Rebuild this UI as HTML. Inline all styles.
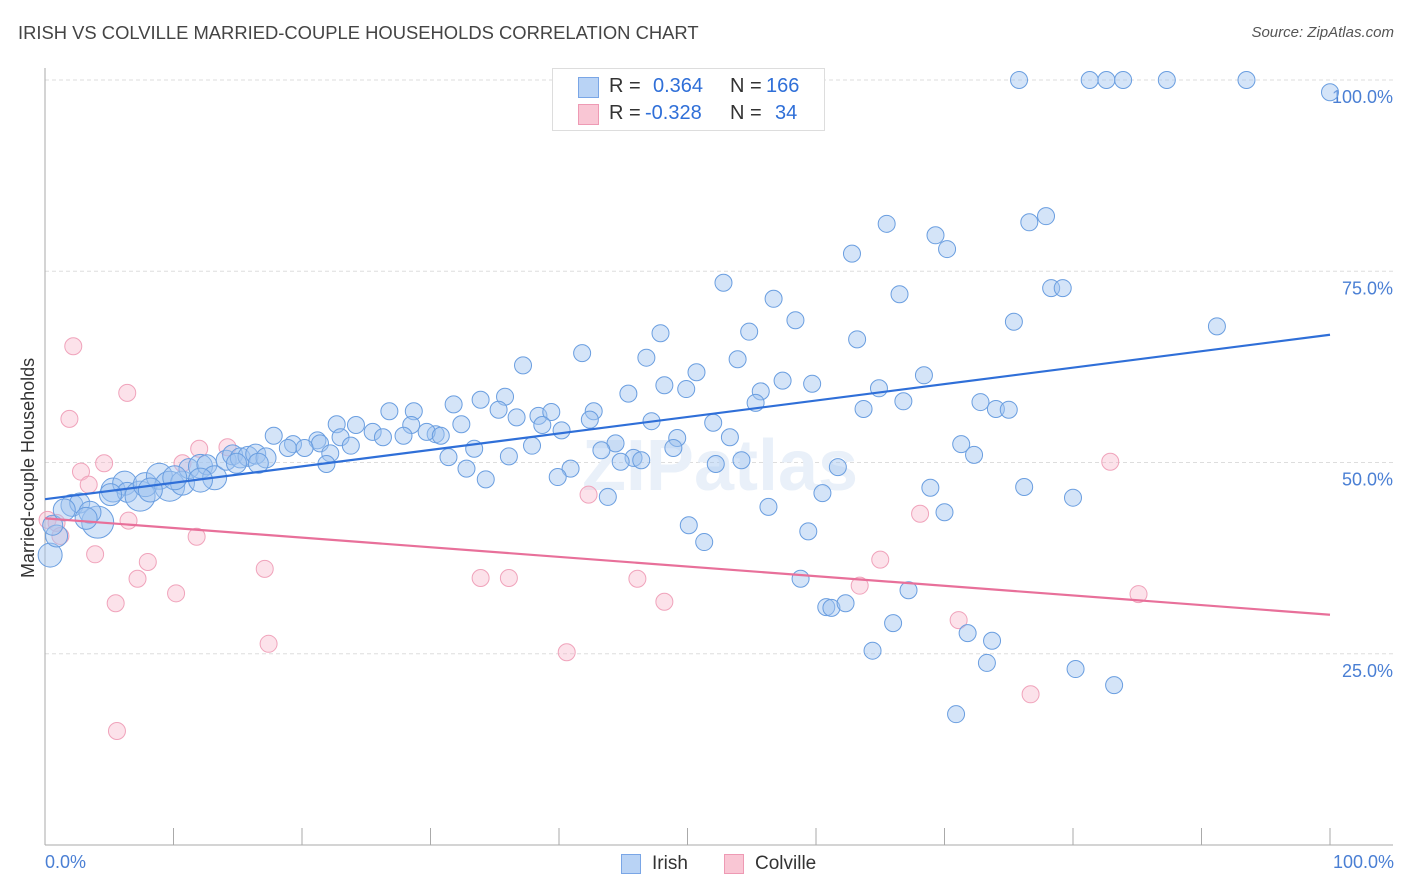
<!DOCTYPE html>
<html><head><meta charset="utf-8"><style>
body{margin:0;background:#fff;font-family:"Liberation Sans",sans-serif}
#wrap{position:relative;width:1406px;height:892px;overflow:hidden}
.t{position:absolute;white-space:nowrap}
</style></head><body>
<div id="wrap">
<div class="t" style="left:18px;top:22px;font-size:18.4px;color:#444">IRISH VS COLVILLE MARRIED-COUPLE HOUSEHOLDS CORRELATION CHART</div>
<div class="t" style="right:12px;top:24px;font-size:15px;color:#555;font-style:italic">Source: ZipAtlas.com</div>
<svg id="plot" width="1406" height="892" style="position:absolute;left:0;top:0"></svg>
<div class="t" style="left:552px;top:68px;width:271px;height:61px;border:1px solid #ddd;background:#fff;font-size:20px">
 <div style="position:absolute;left:25px;top:8px;width:19px;height:19px;background:#b9d3f5;border:1px solid #7aa6e6"></div>
 <div style="position:absolute;left:56px;top:6px;color:#333">R =</div><div style="position:absolute;left:100px;top:6px;color:#2f6fd8">0.364</div>
 <div style="position:absolute;left:177px;top:6px;color:#333">N =</div><div style="position:absolute;left:213px;top:6px;color:#2f6fd8">166</div>
 <div style="position:absolute;left:25px;top:35px;width:19px;height:19px;background:#f9c6d4;border:1px solid #ee9ab4"></div>
 <div style="position:absolute;left:56px;top:33px;color:#333">R =</div><div style="position:absolute;left:92px;top:33px;color:#2f6fd8">-0.328</div>
 <div style="position:absolute;left:177px;top:33px;color:#333">N =</div><div style="position:absolute;left:222px;top:33px;color:#2f6fd8">34</div>
</div>
<div class="t" style="left:621px;top:854px;width:18px;height:18px;background:#b9d3f5;border:1px solid #7aa6e6"></div>
<div class="t" style="left:652px;top:853px;font-size:19px;color:#333">Irish</div>
<div class="t" style="left:724px;top:854px;width:18px;height:18px;background:#f9c6d4;border:1px solid #ee9ab4"></div>
<div class="t" style="left:755px;top:853px;font-size:19px;color:#333">Colville</div>
<div class="t" style="left:45px;top:852px;font-size:18px;color:#4a7fd4">0.0%</div>
<div class="t" style="right:12px;top:852px;font-size:18px;color:#4a7fd4">100.0%</div>
<div class="t" style="font-size:18px;color:#333;transform:rotate(-90deg);transform-origin:0 0;left:18px;top:578px">Married-couple Households</div>
</div>
<script>
const yTicks=[25,50,75,100];
const yTickLabels=["25.0%","50.0%","75.0%","100.0%"];
const irishX=[75.8,81.3,82.6,83.9,87.3,93.5,100,65.5,69.3,70.2,62.8,76.6,77.9,52.8,56.7,66.5,78.3,79.2,58.4,54.8,47.9,63.2,75.4,91.2,41.8,46.8,53.9,37.2,50.7,68.4,48.2,49.9,57.4,59.7,64.9,55.7,45.4,33.9,35.8,31.8,66.8,55.3,72.8,63.7,74.0,75.0,26.8,28.7,35.3,38.4,39.4,42.7,42.4,47.2,52.0,22.7,32.4,36.7,38.7,40.2,24.2,25.5,28.5,30.4,23.0,26.3,27.9,29.7,30.8,21.2,23.8,21.4,19.3,17.8,18.9,20.2,49.2,53.3,44.4,43.3,71.3,72.3,37.9,33.4,31.4,36.1,22.2,21.9,45.8,46.4,48.9,44.8,54.2,52.2,61.7,40.9,39.9,32.8,34.3,60.5,68.9,76.2,80.0,43.8,56.3,70.0,50.1,59.4,51.3,58.8,67.2,60.8,61.2,62.3,66.0,71.8,73.7,64.4,73.3,80.2,83.2,70.9,
0.4,0.9,0.6,2.1,2.7,4.1,5.3,6.2,6.4,7.4,7.8,8.9,9.7,10.7,11.2,12.1,12.6,13.2,14.1,14.6,15.2,15.8,16.4,17.2,14.9,16.6,8.2,10.1,12.1,5.1,3.5,1.5,3.2];
const irishY=[100,100,100,100,100,100,98.4,81.2,79.7,77.9,77.3,81.4,82.2,73.5,71.4,72.0,72.8,72.8,68.6,67.1,66.9,66.1,68.4,67.8,64.3,63.7,63.5,62.7,61.8,61.4,60.1,59.6,60.7,60.3,59.7,59.3,59.0,58.2,58.6,57.6,58.0,57.8,57.9,57.0,57.0,56.9,56.7,56.7,56.9,56.1,56.6,56.7,55.6,55.4,55.2,55.0,55.0,55.9,54.9,54.2,54.9,54.0,54.9,53.7,53.3,53.3,53.5,54.0,53.5,52.9,52.2,52.5,52.4,53.5,51.9,51.9,53.2,53.3,52.5,51.6,52.4,51.0,52.2,51.8,50.7,50.8,51.2,49.8,50.6,50.3,51.9,50.1,50.3,49.8,49.4,49.2,48.1,49.2,47.8,46.0,46.7,46.8,45.4,45.5,44.2,43.5,41.8,41.0,39.6,34.8,33.3,31.1,31.0,31.6,29.0,27.7,26.7,25.4,23.8,23.0,20.9,17.1,
37.9,40.4,41.8,44.4,44.7,42.2,46.4,47.3,46.1,45.6,47.1,48.2,46.9,47.3,49.2,49.5,49.7,48.0,50.3,51.0,50.6,50.8,51.1,50.6,49.9,49.9,46.4,48.0,47.7,45.8,43.5,43.8,42.7];
const irishBig=[12,11,10,11,10,16,12,12,10,15,12,13,15,12,10,12,10,12,10,10,10,10,10,10,10,10,12,12,12,11,11,11,11];
const colX=[2.2,1.9,6.4,2.8,4.6,3.4,12.0,10.7,14.2,0.2,0.9,1.2,6.5,3.9,8.0,7.2,5.5,10.2,11.8,17.1,17.4,5.6,33.9,36.1,40.6,42.3,46.1,48.2,63.4,65.0,68.1,71.1,76.7,82.9,85.1];
const colY=[65.2,55.7,59.1,48.8,49.9,47.1,51.8,49.9,52.0,42.5,42.1,40.4,42.4,38.0,37.0,34.8,31.6,32.9,40.3,36.1,26.3,14.9,34.9,34.9,25.2,45.8,34.8,31.8,33.9,37.3,43.3,29.4,19.7,50.1,32.8];
const irishTrend=[45.2,66.7];
const colTrend=[42.7,30.1];
const NS="http://www.w3.org/2000/svg";
const svg=document.getElementById('plot');
const X=v=>45+v*12.85, Y=v=>845-v*7.65;
function mk(t,a){const e=document.createElementNS(NS,t);for(const k in a)e.setAttribute(k,a[k]);svg.appendChild(e);return e;}
yTicks.forEach((t,i)=>{
 const g=mk('line',{x1:45,x2:1393,y1:Y(t),y2:Y(t),stroke:'#ddd','stroke-dasharray':'4,3'});
 
 
 const tx=mk('text',{x:1393,y:Y(t)+23,'text-anchor':'end','font-size':18,fill:'#4a7fd4','font-family':'Liberation Sans'});
 tx.textContent=yTickLabels[i];
 
 
});
let ax=mk('line',{x1:45,x2:45,y1:68,y2:845,stroke:'#aaa'});


ax=mk('line',{x1:45,x2:1393,y1:845,y2:845,stroke:'#aaa'});


for(let i=0;i<=10;i++){const l=mk('line',{x1:X(i*10),x2:X(i*10),y1:828,y2:845,stroke:'#aaa'});
 
 }
const wm=mk('text',{x:720,y:490,'text-anchor':'middle','font-size':72,fill:'#e9f0f9','font-family':'Liberation Sans','font-weight':'bold'});
wm.textContent='ZIPatlas';


colX.forEach((x,i)=>{const c=mk('circle',{cx:X(x),cy:Y(colY[i]),r:8.5,fill:'rgba(248,182,202,0.4)',stroke:'#f0a3bb','stroke-width':1});
 
 });
const n0=irishX.length-irishBig.length;
irishX.forEach((x,i)=>{const r=i>=n0?irishBig[i-n0]:8.5;
 const c=mk('circle',{cx:X(x),cy:Y(irishY[i]),r:r,fill:'rgba(160,196,240,0.45)',stroke:'#6a9ee0','stroke-width':1});
 
 });
let tl=mk('line',{x1:X(0),x2:X(100),y1:Y(irishTrend[0]),y2:Y(irishTrend[1]),stroke:'#2f6fd8','stroke-width':2.2});


tl=mk('line',{x1:X(0),x2:X(100),y1:Y(colTrend[0]),y2:Y(colTrend[1]),stroke:'#e8709a','stroke-width':2.2});


</script>
</body></html>
